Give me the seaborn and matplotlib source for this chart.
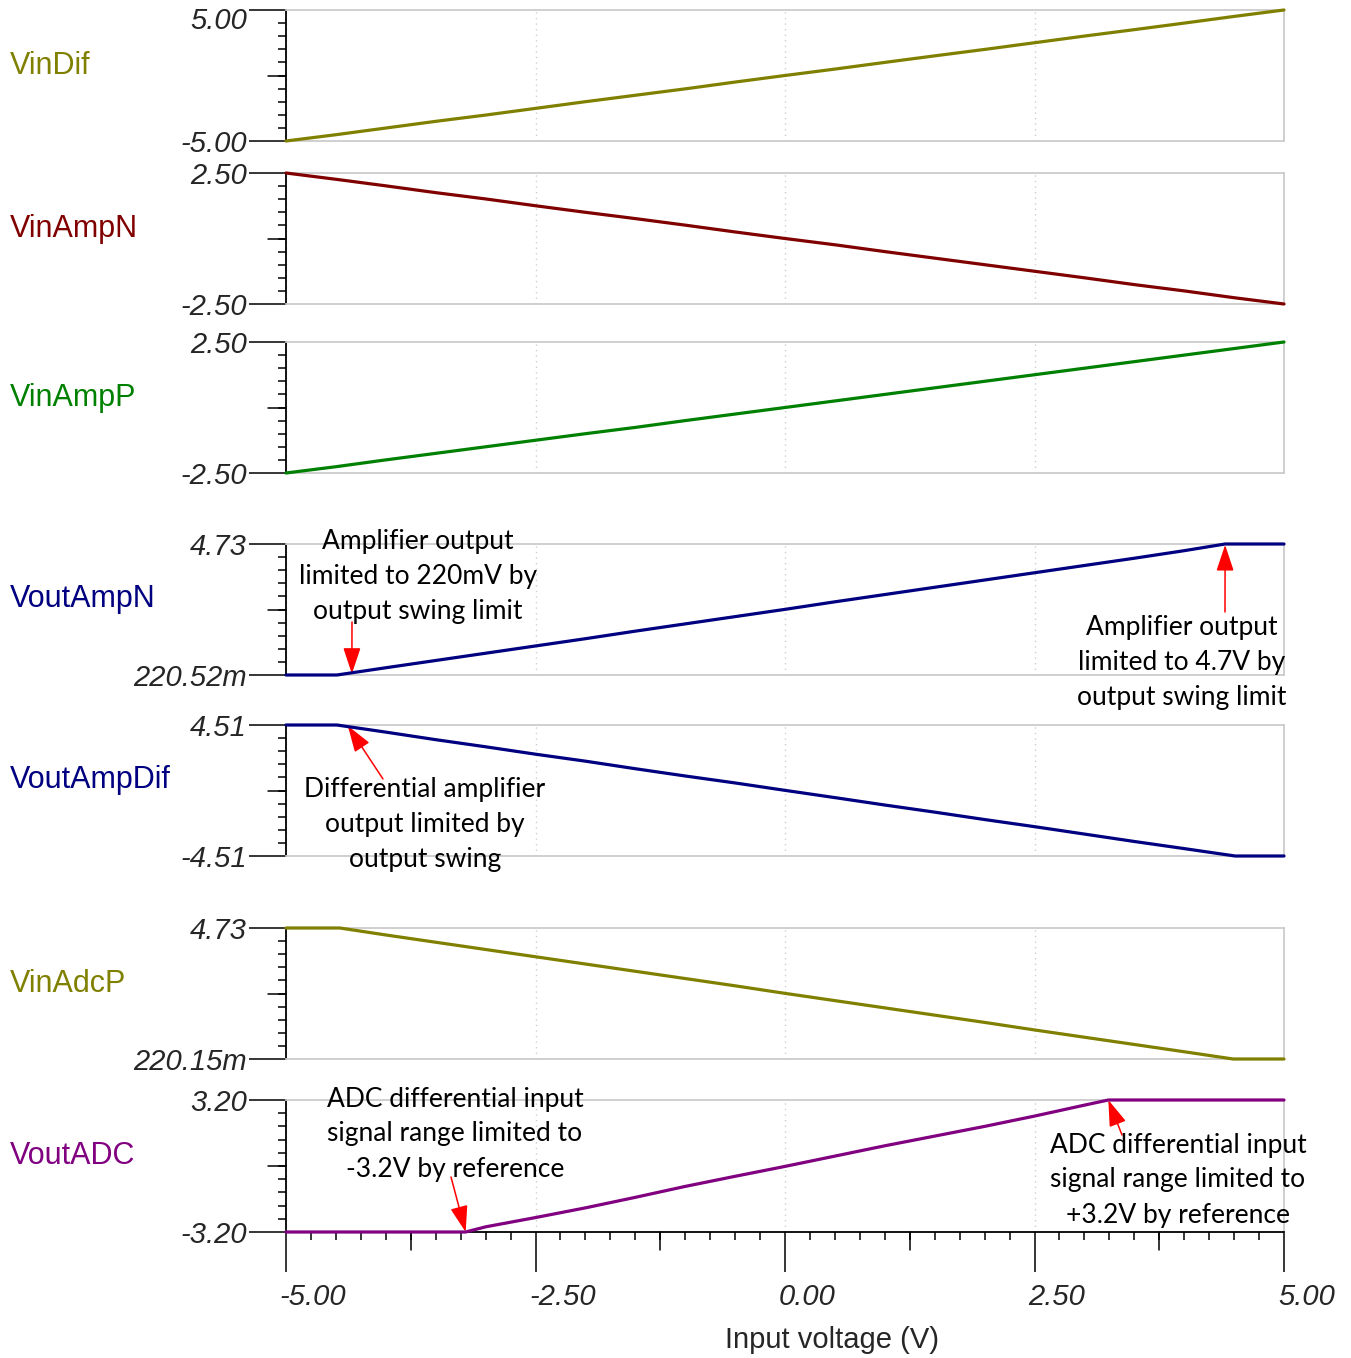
import numpy as np
import pandas as pd
import matplotlib.pyplot as plt
import seaborn as sns
from matplotlib.lines import Line2D
from matplotlib.transforms import ScaledTranslation

W, H = 1351, 1358

# ---- values (volts) ----
x_lin = [-5.0, -4.5, -4.0, -3.5, -3.0, -2.5, -2.0, -1.5, -1.0, -0.5, 0.0,
         0.5, 1.0, 1.5, 2.0, 2.5, 3.0, 3.5, 4.0, 4.5, 5.0]
vin_dif = [-5.00, -4.52, -4.01, -3.50, -3.02, -2.51, -2.00, -1.51, -1.02, -0.50, 0.00,
           0.49, 1.00, 1.50, 1.99, 2.50, 3.01, 3.50, 4.00, 4.51, 5.00]
vin_amp_n = [2.50, 2.26, 2.01, 1.75, 1.51, 1.25, 1.00, 0.76, 0.51, 0.25, 0.00,
             -0.24, -0.50, -0.75, -1.00, -1.25, -1.50, -1.76, -2.00, -2.26, -2.50]
vin_amp_p = [-2.50, -2.26, -2.00, -1.75, -1.50, -1.25, -1.00, -0.76, -0.50, -0.25, 0.00,
             0.25, 0.50, 0.75, 1.00, 1.25, 1.50, 1.75, 2.00, 2.25, 2.50]

x_amp_n = [-5.0, -4.49, -4.0, -3.5, -3.0, -2.5, -2.0, -1.5, -1.0, -0.5, 0.0,
           0.5, 1.0, 1.5, 2.0, 2.5, 3.0, 3.5, 4.0, 4.41, 5.0]
vout_amp_n = [0.2205, 0.2205, 0.47, 0.72, 0.97, 1.22, 1.47, 1.73, 1.98, 2.23, 2.48,
              2.74, 2.99, 3.24, 3.49, 3.74, 3.99, 4.24, 4.50, 4.73, 4.73]

x_amp_dif = [-5.0, -4.49, -4.0, -3.5, -3.0, -2.5, -2.0, -1.5, -1.0, -0.5, 0.0,
             0.5, 1.0, 1.5, 2.0, 2.5, 3.0, 3.5, 4.0, 4.51, 5.0]
vout_amp_dif = [4.51, 4.51, 4.02, 3.50, 3.01, 2.50, 2.02, 1.50, 1.00, 0.52, 0.01,
                -0.49, -1.00, -1.49, -2.00, -2.49, -3.00, -3.51, -4.00, -4.51, -4.51]

x_adc_p = [-5.0, -4.46, -4.0, -3.5, -3.0, -2.5, -2.0, -1.5, -1.0, -0.5, 0.0,
           0.5, 1.0, 1.5, 2.0, 2.5, 3.0, 3.5, 4.0, 4.49, 5.0]
vin_adc_p = [4.73, 4.73, 4.49, 4.24, 3.99, 3.74, 3.49, 3.24, 2.99, 2.74, 2.48,
             2.23, 1.98, 1.73, 1.48, 1.22, 0.97, 0.72, 0.47, 0.2202, 0.2202]

x_adc = [-5.0, -3.2, -3.0, -2.5, -2.0, -1.5, -1.0, -0.5, 0.0, 0.5, 1.0,
         1.5, 2.0, 2.5, 3.0, 3.24, 5.0]
vout_adc = [-3.2, -3.2, -2.95, -2.50, -2.03, -1.52, -0.99, -0.50, -0.02, 0.48, 0.98,
            1.45, 1.92, 2.42, 2.95, 3.2, 3.2]

names = ['VinDif', 'VinAmpN', 'VinAmpP', 'VoutAmpN', 'VoutAmpDif', 'VinAdcP', 'VoutADC']
colors = ['#808000', '#800000', '#008000', '#000080', '#000080', '#808000', '#800080']
series_x = [x_lin, x_lin, x_lin, x_amp_n, x_amp_dif, x_adc_p, x_adc]
series_y = [vin_dif, vin_amp_n, vin_amp_p, vout_amp_n, vout_amp_dif, vin_adc_p, vout_adc]
y_lo = [-5.0, -2.5, -2.5, 0.22052, -4.51, 0.22015, -3.2]
y_hi = [5.0, 2.5, 2.5, 4.73, 4.51, 4.73, 3.2]
lo_labels = ['-5.00', '-2.50', '-2.50', '220.52m', '-4.51', '220.15m', '-3.20']
hi_labels = ['5.00', '2.50', '2.50', '4.73', '4.51', '4.73', '3.20']
x_major = [-5.0, -2.5, 0.0, 2.5, 5.0]
x_major_labels = ['-5.00', '-2.50', '0.00', '2.50', '5.00']

# panel boxes in pixels (top, bottom)
panel_top = [10, 173, 342, 544, 725, 928, 1100]
panel_bot = [141, 304, 473, 675, 856, 1059, 1232]
AX_L, AX_R = 286, 1284

sns.set_theme(style='white')
plt.rcParams['font.family'] = ['Liberation Sans', 'DejaVu Sans']

fig = plt.figure(figsize=(W / 100, H / 100), dpi=100)
frame_gray = '#cccccc'
axes = []

for i in range(7):
    t, b = panel_top[i], panel_bot[i]
    ax = fig.add_axes([AX_L / W, 1 - b / H, (AX_R - AX_L) / W, (b - t) / H])
    axes.append(ax)
    df = pd.DataFrame({'x': series_x[i], 'y': series_y[i]})
    sns.lineplot(data=df, x='x', y='y', ax=ax, color=colors[i], linewidth=2.3, sort=False)
    for ln in ax.lines:
        ln.set_clip_on(False)
        ln.set_zorder(4)
    ax.set_xlim(-5, 5)
    ax.set_ylim(y_lo[i], y_hi[i])
    ax.set_xlabel('')
    ax.set_ylabel('')

    for side in ['top', 'right', 'bottom']:
        ax.spines[side].set_color(frame_gray)
        ax.spines[side].set_linewidth(1.3)
    ax.spines['left'].set_color('black')
    ax.spines['left'].set_linewidth(1.3)

    # y ticks: labelled ends, nine small ticks between
    ax.set_yticks([y_lo[i], y_hi[i]], labels=[lo_labels[i], hi_labels[i]],
                  fontstyle='italic', fontsize=21)
    ax.set_yticks(np.linspace(y_lo[i], y_hi[i], 11)[1:-1], minor=True)
    ax.tick_params(axis='y', which='major', direction='out', length=27, width=1.1,
                   color='black', pad=1, left=True)
    ax.tick_params(axis='y', which='minor', direction='out', length=5.5, width=1.1,
                   color='black', left=True)
    mid = (y_lo[i] + y_hi[i]) / 2
    ax.add_line(Line2D([-18 / 998, 0], [mid, mid], transform=ax.get_yaxis_transform(),
                       color='black', lw=1.1, clip_on=False))

    # faint dotted vertical grid
    ax.set_xticks(x_major)
    ax.grid(axis='x', color='#cfcfcf', linestyle=(0, (1, 3)), linewidth=1.0)
    ax.grid(axis='y', visible=False)
    ax.tick_params(axis='x', which='both', bottom=False, labelbottom=False)

    fig.text(10 / W, 1 - ((t + b) / 2 - 10) / H, names[i], color=colors[i],
             fontsize=22, ha='left', va='center')

# nudge the top label of the first panel down so it stays inside the figure
top_lbl = axes[0].get_yticklabels()[1]
top_lbl.set_transform(top_lbl.get_transform() + ScaledTranslation(0, -0.08, fig.dpi_scale_trans))

# bottom axis of the last panel
axb = axes[-1]
axb.spines['bottom'].set_color('black')
axb.set_xticks(x_major, labels=x_major_labels, fontstyle='italic', fontsize=21, ha='left')
axb.set_xticks(np.arange(-5, 5.01, 0.25), minor=True)
axb.tick_params(axis='x', which='major', bottom=True, labelbottom=True, direction='out',
                length=29, width=1.1, color='black', pad=8)
axb.tick_params(axis='x', which='minor', bottom=True, direction='out', length=5.8,
                width=1.1, color='black')
for lbl in axb.get_xticklabels():
    lbl.set_transform(lbl.get_transform() + ScaledTranslation(-0.06, 0, fig.dpi_scale_trans))
for xm in [-3.75, -1.25, 1.25, 3.75]:
    axb.add_line(Line2D([xm, xm], [0, -18 / 132], transform=axb.get_xaxis_transform(),
                        color='black', lw=1.1, clip_on=False))

fig.text(832 / W, 1 - 1340 / H, 'Input voltage (V)', fontsize=21, ha='center', va='center')

# annotations: (panel, arrow tip in data, arrow tail px, text centre px, text)
arrow_kw = dict(arrowstyle='-|>,head_length=0.9,head_width=0.3', color='red', lw=1.1,
                mutation_scale=18, shrinkA=0, shrinkB=0)
notes = [
    (3, (-4.34, 0.26), (352, 622), (418, 576),
     'Amplifier output\nlimited to 220mV by\noutput swing limit'),
    (3, (4.41, 4.70), (1225, 612), (1182, 662),
     'Amplifier output\nlimited to 4.7V by\noutput swing limit'),
    (4, (-4.38, 4.45), (383, 779), (425, 825),
     'Differential amplifier\noutput limited by\noutput swing'),
    (6, (-3.2, -3.2), (451, 1177), (455, 1134),
     'ADC differential input\nsignal range limited to\n-3.2V by reference'),
    (6, (3.24, 3.2), (1122, 1135), (1178, 1180),
     'ADC differential input\nsignal range limited to\n+3.2V by reference'),
]
for k, tip, tail, ctr, txt in notes:
    fig.text(ctr[0] / W, 1 - ctr[1] / H, txt, fontsize=19, family=['Lato', 'DejaVu Sans'],
             ha='center', va='center', linespacing=1.5, color='black', zorder=5)
    axes[k].annotate('', xy=tip, xycoords='data', xytext=(tail[0], H - tail[1]),
                     textcoords='figure pixels', arrowprops=arrow_kw, annotation_clip=False)

fig.savefig('out.png', dpi=100)
